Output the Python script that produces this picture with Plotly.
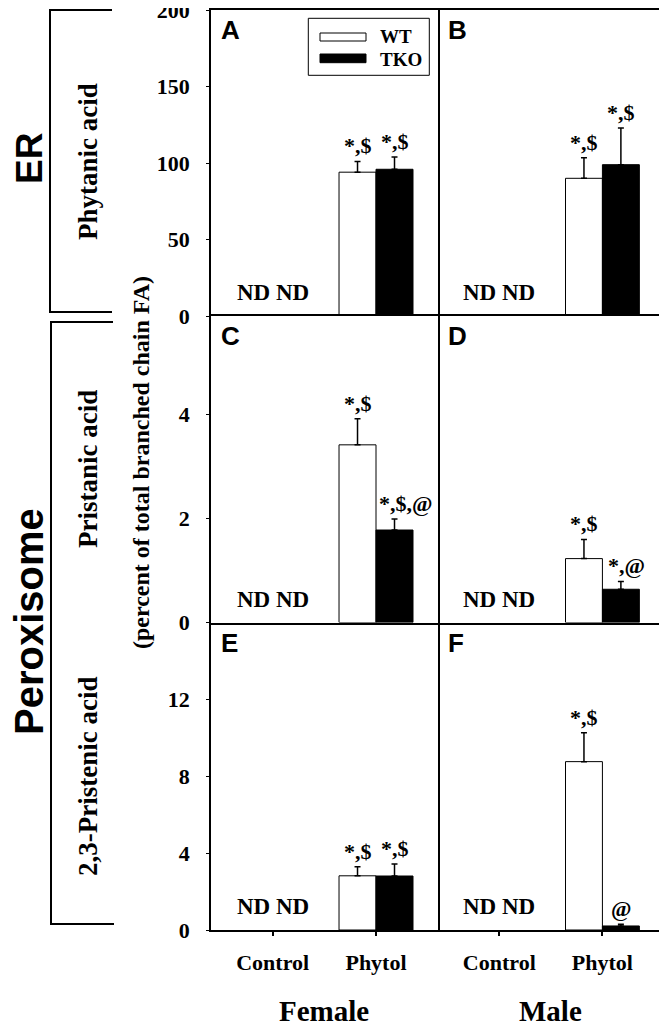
import plotly.graph_objects as go
from plotly.subplots import make_subplots

# -------------------------
# data (percent of total branched chain FA)
# -------------------------
groups = ["Control", "Phytol"]
panel_letters = ["A", "B", "C", "D", "E", "F"]  # rows: phytanic, pristanic, 2,3-pristenic; cols: female, male

# control groups were not detected (ND), phytol values per panel A..F
wt_phytol = [94, 90, 3.42, 1.23, 2.82, 8.76]
wt_phytol_sem = [7, 13.5, 0.5, 0.37, 0.47, 1.5]
tko_phytol = [95.9, 98.9, 1.78, 0.64, 2.81, 0.21]
tko_phytol_sem = [8, 24, 0.21, 0.15, 0.63, 0.09]

wt_marks = ["*,$", "*,$", "*,$", "*,$", "*,$", "*,$"]
tko_marks = ["*,$", "*,$", "*,$,@", "*,@", "*,$", "@"]

row_ranges = [[0, 200], [0, 5.9], [0, 16]]
row_ticks = [[0, 50, 100, 150, 200], [0, 2, 4], [0, 4, 8, 12]]
row_names = ["Phytanic acid", "Pristanic acid", "2,3-Pristenic acid"]
sexes = ["Female", "Male"]

# -------------------------
# page geometry (pixels in the 667x1028 window)
# the page body has an 8px margin, so the figure starts at (8, 8)
# -------------------------
OFF = 8
W, H = 667 - OFF, 1028 - OFF


def X(p):
    return (p - OFF) / W


def Y(p):
    return 1 - (p - OFF) / H


col_px = [(211, 437.7), (437.7, 664)]
row_px = [(10, 316), (316, 622.5), (622.5, 930)]

SERIF = "Liberation Serif"
SANS = "Liberation Sans"
BARGAP = 0.284
bar_w = (1 - BARGAP) / 2

fig = make_subplots(rows=3, cols=2, horizontal_spacing=0, vertical_spacing=0)

for i in range(6):
    r, c = i // 2 + 1, i % 2 + 1
    fig.add_trace(go.Bar(
        x=groups, y=[None, wt_phytol[i]], name="WT",
        marker=dict(color="white", line=dict(color="black", width=1)),
        error_y=dict(type="data", symmetric=False,
                     array=[0, wt_phytol_sem[i]], arrayminus=[0, 0],
                     color="black", thickness=1.5, width=3),
        showlegend=False,
    ), row=r, col=c)
    fig.add_trace(go.Bar(
        x=groups, y=[None, tko_phytol[i]], name="TKO",
        marker=dict(color="black", line=dict(color="black", width=1)),
        error_y=dict(type="data", symmetric=False,
                     array=[0, tko_phytol_sem[i]], arrayminus=[0, 0],
                     color="black", thickness=1.5, width=3),
        showlegend=False,
    ), row=r, col=c)

annotations = []
for i in range(6):
    r, c = i // 2, i % 2
    n = i + 1
    xa = "xaxis" if n == 1 else f"xaxis{n}"
    ya = "yaxis" if n == 1 else f"yaxis{n}"
    xref = "x" if n == 1 else f"x{n}"
    yref = "y" if n == 1 else f"y{n}"

    # frame lines: each shared edge drawn only once
    if r == 0:
        x_line = dict(side="top", mirror=False, linewidth=1.5)
    elif r == 1:
        x_line = dict(side="bottom", mirror=True, linewidth=1.5)
    else:
        x_line = dict(side="bottom", mirror=False, linewidth=2)
    fig.layout[xa].update(
        domain=[X(col_px[c][0]), X(col_px[c][1])],
        range=[-0.597, 1.597], automargin=False,
        showline=True, linecolor="black", **x_line,
        showgrid=False, zeroline=False,
        ticks="outside" if r == 2 else "", ticklen=4, tickwidth=1.5, tickcolor="black",
        showticklabels=(r == 2), ticklabelstandoff=8,
        tickfont=dict(family=SERIF, size=22, color="black", weight="bold"),
    )
    if c == 0:
        y_line = dict(side="left", mirror=True)
    else:
        y_line = dict(side="right", mirror=False)
    fig.layout[ya].update(
        domain=[Y(row_px[r][1]), Y(row_px[r][0])],
        range=row_ranges[r], automargin=False,
        showline=True, linecolor="black", linewidth=1.5, **y_line,
        showgrid=False, zeroline=False,
        tickmode="array", tickvals=row_ticks[r],
        ticks="outside" if c == 0 else "", ticklen=3, tickwidth=1, tickcolor="black",
        showticklabels=(c == 0), ticklabelstandoff=12, ticklabeloverflow="allow",
        tickfont=dict(family=SERIF, size=22, color="black", weight="bold"),
    )

    # panel letter
    annotations.append(dict(
        text=f"<b>{panel_letters[i]}</b>", xref=f"{xref} domain", yref=f"{yref} domain",
        x=0, y=1, xanchor="left", yanchor="top", xshift=8, yshift=-3,
        showarrow=False, font=dict(family=SANS, size=26, color="black"),
    ))
    # not detected
    annotations.append(dict(
        text="<b>ND ND</b>", xref=xref, yref=f"{yref} domain",
        x=0, y=0, xanchor="center", yanchor="bottom", yshift=9,
        showarrow=False, font=dict(family=SERIF, size=23, color="black"),
    ))
    # significance marks
    annotations.append(dict(
        text=f"<b>{wt_marks[i]}</b>", xref=xref, yref=yref,
        x=1 - bar_w / 2, y=wt_phytol[i] + wt_phytol_sem[i],
        xanchor="center", yanchor="bottom", yshift=1,
        showarrow=False, font=dict(family=SERIF, size=22, color="black"),
    ))
    shift = 11 if len(tko_marks[i]) > 4 else (6 if tko_marks[i] == "*,@" else 0)
    annotations.append(dict(
        text=f"<b>{tko_marks[i]}</b>", xref=xref, yref=yref,
        x=1 + bar_w / 2, y=tko_phytol[i] + tko_phytol_sem[i],
        xanchor="center", yanchor="bottom", yshift=1, xshift=shift,
        showarrow=False, font=dict(family=SERIF, size=22, color="black"),
    ))

# sex labels under the columns
for c, s in enumerate(sexes):
    annotations.append(dict(
        text=f"<b>{s}</b>", xref="paper", yref="paper",
        x=X((col_px[c][0] + col_px[c][1]) / 2), y=Y(1011),
        xanchor="center", yanchor="middle", showarrow=False,
        font=dict(family=SERIF, size=29, color="black"),
    ))

# y axis title
annotations.append(dict(
    text="<b>(percent of total branched chain FA)</b>", xref="paper", yref="paper",
    x=X(141), y=Y(463), textangle=-90, xanchor="center", yanchor="middle",
    showarrow=False, font=dict(family=SERIF, size=24, color="black"),
))

# fatty acid names
for r, nm in enumerate(row_names):
    ycen = [162, 469, 777][r]
    annotations.append(dict(
        text=f"<b>{nm}</b>", xref="paper", yref="paper",
        x=X(88), y=Y(ycen), textangle=-90, xanchor="center", yanchor="middle",
        showarrow=False, font=dict(family=SERIF, size=27, color="black"),
    ))

# organelle labels
for txt, ycen, fs in [("ER", 159, 37), ("Peroxisome", 622, 40)]:
    annotations.append(dict(
        text=f"<b>{txt}</b>", xref="paper", yref="paper",
        x=X(29), y=Y(ycen), textangle=-90, xanchor="center", yanchor="middle",
        showarrow=False, font=dict(family=SANS, size=fs, color="black"),
    ))

# legend text
for txt, ycen in [("WT", 36), ("TKO", 59)]:
    annotations.append(dict(
        text=f"<b>{txt}</b>", xref="paper", yref="paper",
        x=X(378), y=Y(ycen), xanchor="left", yanchor="middle",
        showarrow=False, font=dict(family=SERIF, size=19, color="black"),
    ))

shapes = [
    # brackets
    dict(type="path", xref="paper", yref="paper",
         path=f"M {X(112)},{Y(10)} L {X(50)},{Y(10)} L {X(50)},{Y(312)} L {X(112)},{Y(312)}",
         line=dict(color="black", width=2)),
    dict(type="path", xref="paper", yref="paper",
         path=f"M {X(113)},{Y(322)} L {X(51)},{Y(322)} L {X(51)},{Y(924)} L {X(114)},{Y(924)}",
         line=dict(color="black", width=2)),
    # legend box and swatches
    dict(type="rect", xref="paper", yref="paper",
         x0=X(308.3), x1=X(429.3), y0=Y(75.3), y1=Y(18.3),
         line=dict(color="black", width=1), fillcolor="white", layer="above"),
    dict(type="rect", xref="paper", yref="paper",
         x0=X(320), x1=X(366), y0=Y(41), y1=Y(33),
         line=dict(color="black", width=1), fillcolor="white", layer="above"),
    dict(type="rect", xref="paper", yref="paper",
         x0=X(320), x1=X(366), y0=Y(62.7), y1=Y(54),
         line=dict(color="black", width=1), fillcolor="black", layer="above"),
]

fig.update_layout(
    width=W, height=H,
    margin=dict(l=0, r=0, t=0, b=0),
    barmode="group", bargap=BARGAP, bargroupgap=0,
    plot_bgcolor="white", paper_bgcolor="white",
    annotations=annotations, shapes=shapes,
    showlegend=False,
)

fig.write_html("out.html")
